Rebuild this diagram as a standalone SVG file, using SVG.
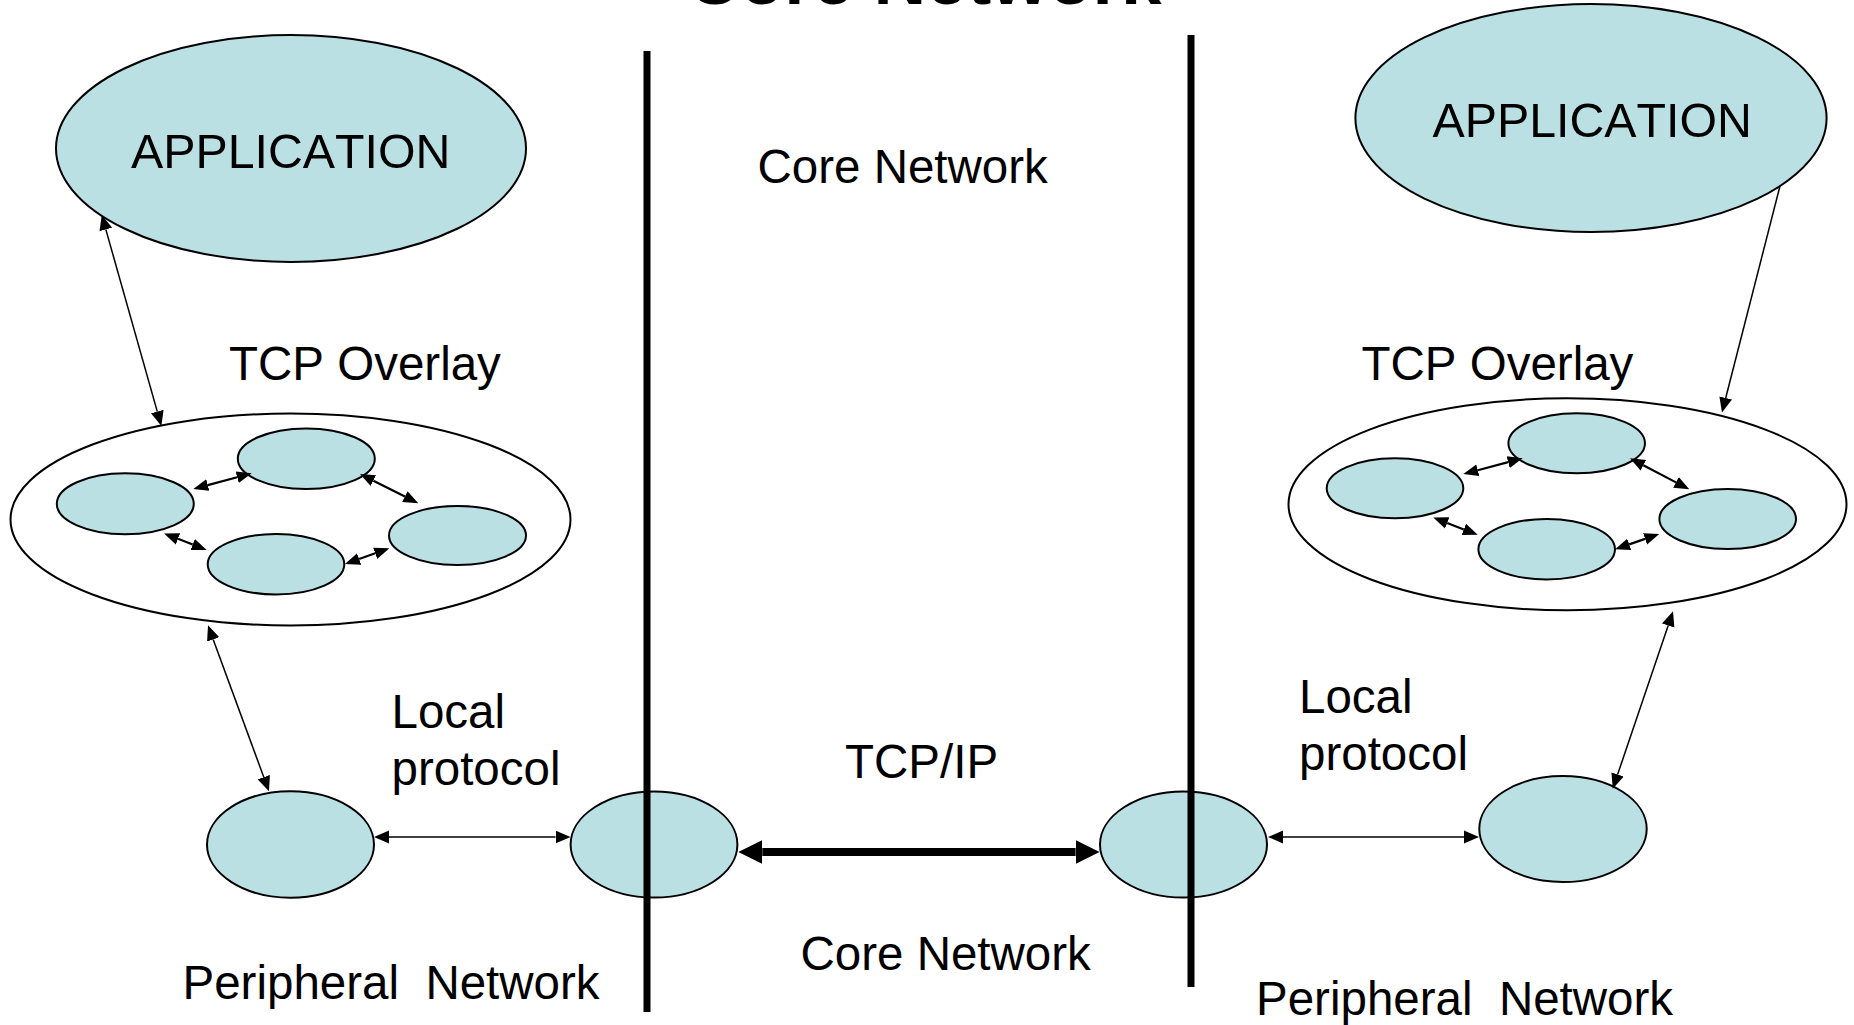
<svg xmlns="http://www.w3.org/2000/svg" width="1854" height="1025" viewBox="0 0 1854 1025">
  <style>
    .node { fill: #BAE0E3; stroke: #000; stroke-width: 2; }
    .ring { fill: #fff; stroke: #000; stroke-width: 2; }
    .lbl { font-family: "Liberation Sans", Arial, sans-serif; font-size: 47.5px; fill: #000; font-kerning: none; }
    .app { font-size: 48.3px; }
    .title { font-family: "Liberation Sans", Arial, sans-serif; font-size: 73px; font-weight: bold; fill: #000; font-kerning: none; }
    .thin { stroke: #000; stroke-width: 1.5; fill: none; }
    .small { stroke: #000; stroke-width: 2.2; fill: none; }
    .thick { stroke: #000; stroke-width: 8; fill: none; }
    .wall { stroke: #000; stroke-width: 7; }
  </style>
  <defs>
    <!-- arrowheads: base sits on the path end, tip points outward -->
    <marker id="ah" markerUnits="userSpaceOnUse" viewBox="0 -7 15 14" markerWidth="15" markerHeight="14" refX="0" refY="0" orient="auto-start-reverse">
      <path d="M0,-6.5 L15,0 L0,6.5 z" fill="#000"/>
    </marker>
    <marker id="as" markerUnits="userSpaceOnUse" viewBox="0 -7 15 14" markerWidth="15" markerHeight="14" refX="0" refY="0" orient="auto-start-reverse">
      <path d="M0,-6 L15,0 L0,6 z" fill="#000"/>
    </marker>
    <marker id="at" markerUnits="userSpaceOnUse" viewBox="0 -13 24 26" markerWidth="24" markerHeight="26" refX="0" refY="0" orient="auto-start-reverse">
      <path d="M0,-12 L24,0 L0,12 z" fill="#000"/>
    </marker>
  </defs>

  <rect width="1854" height="1025" fill="#fff"/>

  <text class="title" x="687" y="4">Core Network</text>

  <!-- left side -->
  <g id="app-left">
    <ellipse class="node" cx="291" cy="148.5" rx="235" ry="113.5"/>
    <text class="lbl app" x="131" y="168">APPLICATION</text>
  </g>
  <g id="overlay-left">
    <text class="lbl" x="229" y="380">TCP Overlay</text>
    <ellipse class="ring" cx="290.5" cy="519.5" rx="280" ry="106"/>
    <ellipse class="node" cx="306.3" cy="458.7" rx="68.5" ry="30.3"/>
    <ellipse class="node" cx="125.3" cy="503.8" rx="68.5" ry="30.5"/>
    <ellipse class="node" cx="457.5" cy="535.5" rx="68.5" ry="29.5"/>
    <ellipse class="node" cx="276" cy="564.2" rx="68.3" ry="30.2"/>
  </g>
  <g id="peer-left">
    <ellipse class="node" cx="290.5" cy="844.5" rx="83.5" ry="53.2"/>
  </g>
  <g id="gateway-left">
    <ellipse class="node" cx="654" cy="844.5" rx="83.4" ry="53"/>
  </g>

  <!-- right side -->
  <g id="app-right">
    <ellipse class="node" cx="1591" cy="118" rx="235.6" ry="114"/>
    <text class="lbl app" x="1432.5" y="137">APPLICATION</text>
  </g>
  <g id="overlay-right">
    <text class="lbl" x="1361.5" y="380">TCP Overlay</text>
    <ellipse class="ring" cx="1567.5" cy="504.3" rx="279" ry="106"/>
    <ellipse class="node" cx="1576.7" cy="443.3" rx="68.3" ry="30"/>
    <ellipse class="node" cx="1395" cy="488.3" rx="68.3" ry="30"/>
    <ellipse class="node" cx="1727.7" cy="519" rx="68.3" ry="30"/>
    <ellipse class="node" cx="1546.7" cy="549.2" rx="68.3" ry="30.2"/>
  </g>
  <g id="peer-right">
    <ellipse class="node" cx="1563" cy="829" rx="83.7" ry="53"/>
  </g>
  <g id="gateway-right">
    <ellipse class="node" cx="1183.5" cy="844.5" rx="83.5" ry="53"/>
  </g>

  <!-- region boundaries -->
  <g id="boundaries">
    <line class="wall" x1="647" y1="51" x2="647" y2="1012"/>
    <line class="wall" x1="1191" y1="35" x2="1191" y2="987"/>
  </g>

  <g id="labels">
    <text class="lbl" x="757.5" y="183">Core Network</text>
    <text class="lbl" x="391.5" y="728">Local</text>
    <text class="lbl" x="391.5" y="785">protocol</text>
    <text class="lbl" x="1299" y="713">Local</text>
    <text class="lbl" x="1299" y="770">protocol</text>
    <text class="lbl" x="845" y="778">TCP/IP</text>
    <text class="lbl" x="800.5" y="970">Core Network</text>
    <text class="lbl" x="182.5" y="999" xml:space="preserve">Peripheral  Network</text>
    <text class="lbl" x="1256" y="1015" xml:space="preserve">Peripheral  Network</text>
  </g>

  <g id="connectors">
    <!-- application to overlay -->
    <line class="thin" x1="105.8" y1="229.4" x2="157.3" y2="411.6" marker-start="url(#ah)" marker-end="url(#ah)"/>
    <line class="thin" x1="1780" y1="186" x2="1725.7" y2="398" marker-end="url(#ah)"/>
    <!-- overlay to peripheral node -->
    <line class="thin" x1="213.2" y1="639.4" x2="263.8" y2="777.2" marker-start="url(#ah)" marker-end="url(#ah)"/>
    <line class="thin" x1="1668.2" y1="625.5" x2="1617.6" y2="774.5" marker-start="url(#ah)" marker-end="url(#ah)"/>
    <!-- local protocol links -->
    <line class="thin" x1="389" y1="837" x2="555.5" y2="837" marker-start="url(#ah)" marker-end="url(#ah)"/>
    <line class="thin" x1="1283" y1="837" x2="1464" y2="837" marker-start="url(#ah)" marker-end="url(#ah)"/>
    <!-- TCP/IP core link -->
    <line class="thick" x1="762.3" y1="852" x2="1075.6" y2="852" marker-start="url(#at)" marker-end="url(#at)"/>
    <!-- overlay peer links, left -->
    <line class="small" x1="207.8" y1="485.1" x2="237.2" y2="477.2" marker-start="url(#as)" marker-end="url(#as)"/>
    <line class="small" x1="373.4" y1="480.7" x2="404.9" y2="496.6" marker-start="url(#as)" marker-end="url(#as)"/>
    <line class="small" x1="178" y1="538.8" x2="192.7" y2="544.5" marker-start="url(#as)" marker-end="url(#as)"/>
    <line class="small" x1="359.1" y1="559" x2="375.2" y2="553.3" marker-start="url(#as)" marker-end="url(#as)"/>
    <!-- overlay peer links, right -->
    <line class="small" x1="1477.8" y1="470.2" x2="1508.2" y2="462.1" marker-start="url(#as)" marker-end="url(#as)"/>
    <line class="small" x1="1643.3" y1="465.3" x2="1676" y2="482.4" marker-start="url(#as)" marker-end="url(#as)"/>
    <line class="small" x1="1447.2" y1="522.9" x2="1463.8" y2="529.4" marker-start="url(#as)" marker-end="url(#as)"/>
    <line class="small" x1="1629.2" y1="544.4" x2="1645.1" y2="538.9" marker-start="url(#as)" marker-end="url(#as)"/>
  </g>
</svg>
